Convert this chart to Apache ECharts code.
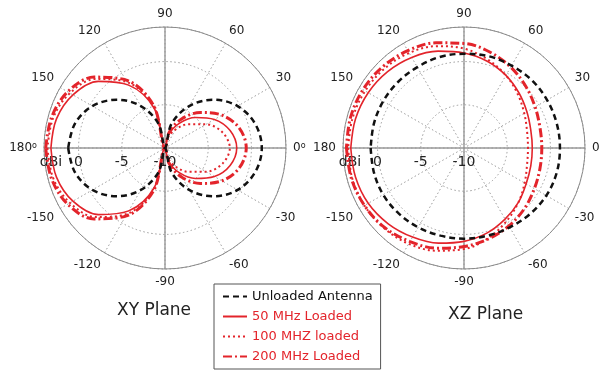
<!DOCTYPE html>
<html>
<head>
<meta charset="utf-8">
<script src="https://cdn.jsdelivr.net/npm/echarts@6/dist/echarts.min.js"></script>
<style>
  html, body { margin: 0; background: #fff; }
  #chart { width: 610px; height: 374px; }
</style>
</head>
<body>
<div id="chart"></div>
<script>
// angle in degrees, gain in dBi
const angles = [-180, -165, -150, -135, -120, -105, -90, -75, -60, -45, -30, -15, 0,
  15, 30, 45, 60, 75, 90, 105, 120, 135, 150, 165, 180];

const xyUnloaded = [1.2, 0.8, -0.3, -2.1, -4.4, -7.1, -10, -7.1, -4.4, -2.1, -0.3, 0.8, 1.2,
  0.8, -0.3, -2.1, -4.4, -7.1, -10, -7.1, -4.4, -2.1, -0.3, 0.8, 1.2];
const xy50 = [3.2, 3.0, 2.3, 0.9, -1.6, -5.3, -10, -8.4, -6.7, -5.0, -3.4, -2.2, -1.7,
  -2.2, -3.4, -5.0, -6.7, -8.4, -10, -5.3, -1.6, 0.9, 2.3, 3.0, 3.2];
const xy100 = [3.6, 3.4, 2.7, 1.3, -1.2, -5.1, -10, -8.8, -7.5, -6.1, -4.5, -3.1, -2.5,
  -3.1, -4.5, -6.1, -7.5, -8.8, -10, -5.1, -1.2, 1.3, 2.7, 3.4, 3.6];
const xy200 = [3.8, 3.6, 3.0, 1.6, -0.9, -4.9, -10, -8.1, -6.1, -4.2, -2.4, -1.1, -0.6,
  -1.1, -2.4, -4.2, -6.1, -8.1, -10, -4.9, -0.9, 1.6, 3.0, 3.6, 3.8];

const xzUnloaded = [0.8, 0.8, 0.8, 0.7, 0.6, 0.5, 0.5, 0.5, 0.6, 0.8, 1.0, 1.1, 1.1,
  1.1, 1.1, 1.1, 1.0, 1.0, 0.9, 0.9, 0.8, 0.8, 0.8, 0.8, 0.8];
const xz50 = [3.1, 3.0, 2.8, 2.4, 1.9, 1.4, 0.8, 0.2, -0.5, -1.1, -1.7, -2.0, -2.1,
  -2.0, -1.6, -1.0, -0.3, 0.4, 1.0, 1.6, 2.1, 2.5, 2.8, 3.0, 3.1];
const xz100 = [3.4, 3.4, 3.3, 3.1, 2.8, 2.3, 1.7, 0.8, -0.2, -1.1, -1.9, -2.45, -2.6,
  -2.45, -1.95, -1.2, -0.3, 0.6, 1.5, 2.2, 2.7, 3.0, 3.2, 3.35, 3.4];
const xz200 = [3.6, 3.5, 3.3, 3.0, 2.5, 2.0, 1.4, 0.9, 0.4, -0.1, -0.6, -0.9, -1.0,
  -0.9, -0.5, 0.1, 0.8, 1.5, 2.1, 2.6, 3.0, 3.3, 3.5, 3.6, 3.6];

const seriesNames = ["Unloaded Antenna", "50 MHz Loaded", "100 MHZ loaded", "200 MHz Loaded"];
const planeTitles = ["XY Plane", "XZ Plane"];
const radiusMin = -10;
const radiusMax = 4;

const red = "#e3242b";
const font = "DejaVu Sans";
const lineStyles = [
  { color: "#111", width: 2.5, type: [6, 4] },
  { color: red, width: 1.6, type: "solid" },
  { color: red, width: 2, type: [2, 3] },
  { color: red, width: 3, type: [9, 3, 2, 3] },
];

const centers = [[165, 148], [464, 148]];

function gridAxes(idx, degree) {
  const grid = idx * 2;
  const cross = idx * 2 + 1;
  return {
    angle: [
      {
        polarIndex: grid, type: "value", min: -180, max: 180, interval: 30,
        startAngle: 180, clockwise: false,
        axisLine: { lineStyle: { color: "#8a8a8a", width: 1 } },
        axisTick: { show: false },
        axisLabel: {
          color: "#222", fontSize: 12, fontFamily: font, margin: 7,
          formatter: (v) => {
            if (v === 180) return "";
            if (v === -180) return degree ? "180{d|o}" : "180";
            if (v === 0) return degree ? "0{d|o}" : "0";
            return String(v);
          },
          rich: { d: { fontSize: 8, verticalAlign: "top", color: "#222" } },
        },
        splitLine: { lineStyle: { color: "#9a9a9a", width: 1, type: [1.5, 2.5] } },
      },
      {
        polarIndex: cross, type: "value", min: -180, max: 180, interval: 90,
        startAngle: 180, clockwise: false,
        axisLine: { show: false }, axisTick: { show: false }, axisLabel: { show: false },
        splitLine: { lineStyle: { color: "#9a9a9a", width: 1.4 } },
      },
    ],
    radius: [
      {
        polarIndex: grid, type: "value", min: radiusMin, max: radiusMax, interval: 5,
        axisLine: { show: false }, axisTick: { show: false },
        axisLabel: {
          color: "#222", fontSize: 14, fontFamily: font, margin: 7,
          formatter: (v) => (v === radiusMax ? "{u|dBi}" : String(v)),
          rich: { u: { fontSize: 14, color: "#222", padding: [0, 0, 0, 14] } },
        },
        splitLine: { lineStyle: { color: "#9a9a9a", width: 1, type: [1.5, 2.5] } },
      },
      {
        polarIndex: cross, type: "value", min: radiusMin, max: radiusMax,
        axisLine: { show: false }, axisTick: { show: false }, axisLabel: { show: false },
        splitLine: { show: false },
      },
    ],
  };
}

const left = gridAxes(0, true);
const right = gridAxes(1, false);

function planeSeries(polarIndex, sets) {
  return sets.map((vals, k) => ({
    name: seriesNames[k],
    type: "line",
    coordinateSystem: "polar",
    polarIndex,
    symbol: "none",
    smooth: 0.35,
    lineStyle: lineStyles[k],
    itemStyle: { color: lineStyles[k].color },
    data: angles.map((a, i) => [vals[i], a]),
    z: 5 - k,
  }));
}

const chart = echarts.init(document.getElementById("chart"));
chart.setOption({
  animation: false,
  textStyle: { fontFamily: font },
  title: [
    { text: planeTitles[0], left: 117, top: 302, padding: 0,
      textStyle: { fontSize: 17, fontWeight: "normal", color: "#222", fontFamily: font } },
    { text: planeTitles[1], left: 448, top: 306, padding: 0,
      textStyle: { fontSize: 17, fontWeight: "normal", color: "#222", fontFamily: font } },
  ],
  legend: {
    orient: "vertical",
    left: 214, top: 284,
    padding: [6, 8, 6, 8],
    itemGap: 7,
    itemWidth: 24, itemHeight: 14,
    borderColor: "#555", borderWidth: 1,
    itemStyle: { opacity: 0 },
    data: seriesNames.map((n, k) => ({
      name: n,
      textStyle: { color: k === 0 ? "#111" : red, fontSize: 13, fontFamily: font },
    })),
  },
  polar: [
    { center: centers[0], radius: 121 },
    { center: centers[0], radius: 121 },
    { center: centers[1], radius: 121 },
    { center: centers[1], radius: 121 },
  ],
  angleAxis: [...left.angle, ...right.angle],
  radiusAxis: [...left.radius, ...right.radius],
  series: [
    ...planeSeries(0, [xyUnloaded, xy50, xy100, xy200]),
    ...planeSeries(2, [xzUnloaded, xz50, xz100, xz200]),
  ],
});
</script>
</body>
</html>
